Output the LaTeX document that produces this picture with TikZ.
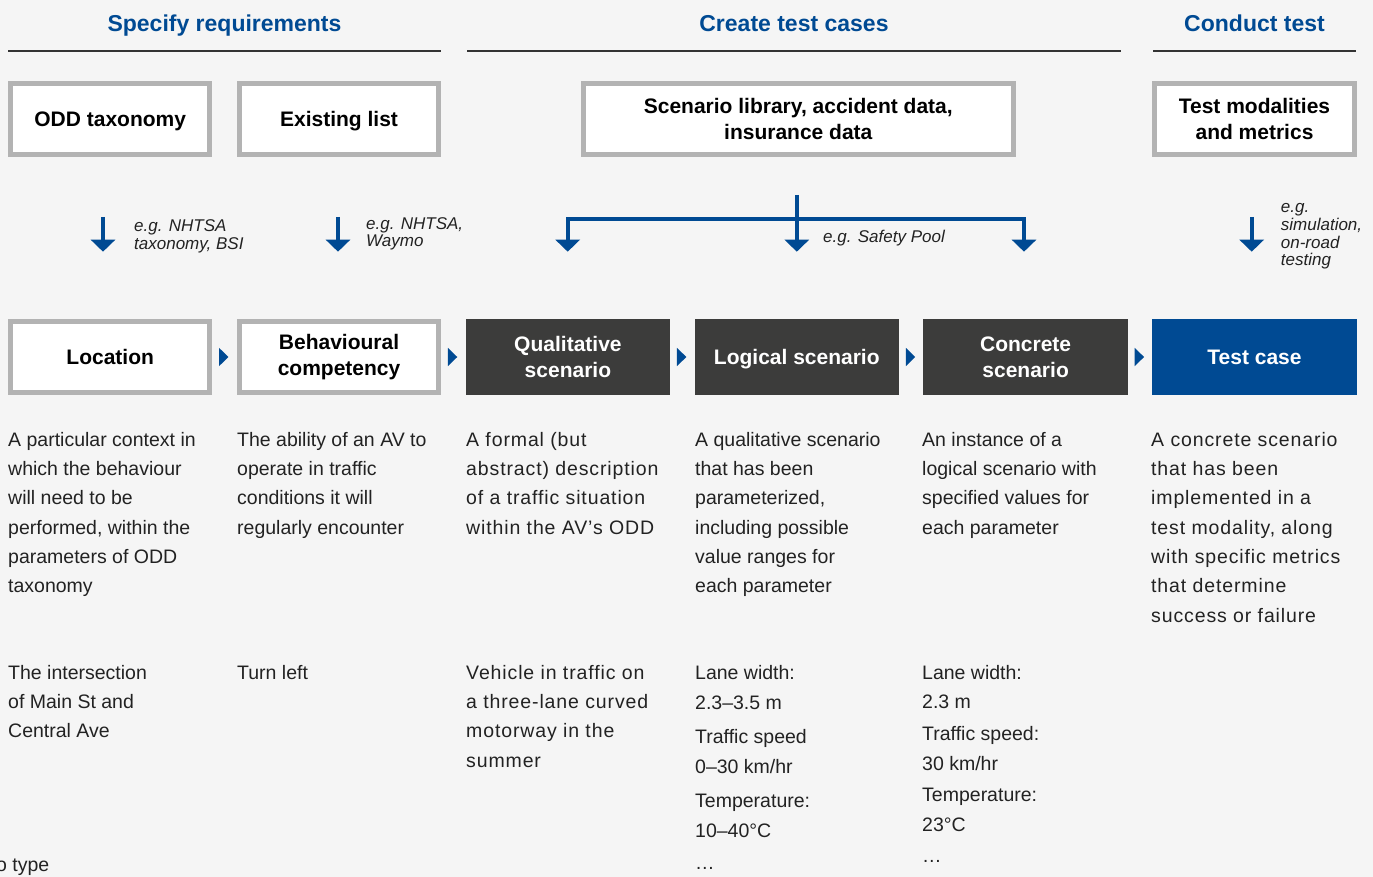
\documentclass[tikz,border=0pt]{standalone}
\usepackage{fontspec}
\setmainfont{Liberation Sans}
\newfontfamily\trackfont[LetterSpace=4.5]{Liberation Sans}
\usetikzlibrary{arrows.meta}
\definecolor{bg}{HTML}{F5F5F5}
\definecolor{mblue}{HTML}{004A93}
\definecolor{dbox}{HTML}{3C3C3B}
\definecolor{gborder}{HTML}{B3B3B3}
\definecolor{txt}{HTML}{222222}
\definecolor{rulec}{HTML}{333333}
\tikzset{
  hdr/.style={text=mblue, font=\fontsize{23}{26}\selectfont\bfseries, anchor=base, inner sep=0},
  hline/.style={draw=rulec, line width=1.2pt},
  graybox/.style={draw=gborder, line width=5pt, fill=white, minimum width=199.4pt, minimum height=71pt, inner sep=0, align=center, font=\fontsize{21}{26}\selectfont\bfseries, text=black},
  darkbox/.style={fill=dbox, draw=none, minimum width=204.4pt, minimum height=76pt, inner sep=0, align=center, font=\fontsize{21}{26}\selectfont\bfseries, text=white},
  bluebox/.style={darkbox, fill=mblue},
  tip/.tip={Triangle[width=24pt,length=12pt]},
  flow/.style={draw=mblue, line width=4pt, -tip, line join=miter},
  note/.style={anchor=north west, inner sep=0, align=left, text=txt, font=\fontsize{17}{17.5}\selectfont\itshape},
  desc/.style={anchor=north west, inner sep=0, align=left, text=txt, font=\fontsize{19.5}{29.3}\selectfont},
  tdesc/.style={desc, font=\trackfont\fontsize{19.5}{29.3}\selectfont},
  tri/.style={fill=mblue},
}
\begin{document}
\begin{tikzpicture}[x=1pt,y=-1pt]
\fill[bg] (0,0) rectangle (1373,877);
\useasboundingbox (0,0) rectangle (1373,877);

% headers
\node[hdr] (h1) at (224.5,32) {Specify requirements};
\node[hdr] (h2) at (794,32) {Create test cases};
\node[hdr] (h3) at (1254.5,32) {Conduct test};
\draw[hline] (8,51) -- (441,51);
\draw[hline] (467,51) -- (1121,51);
\draw[hline] (1153,51) -- (1356,51);

% top boxes
\node[graybox, text depth=0pt] (odd) at (110.2,119) {ODD taxonomy};
\node[graybox, text depth=0pt] (exist) at (339.06,119) {Existing list};
\node[graybox, minimum width=430pt] (scen) at (798.3,119) {Scenario library, accident data,\\insurance data};
\node[graybox] (tmod) at (1254.5,119) {Test modalities\\and metrics};

% main row
\node[graybox] (loc) at (110.2,357) {Location};
\node[graybox] (beh) at (339.06,357) {Behavioural\\competency};
\node[darkbox] (qual) at (567.92,357) {Qualitative\\scenario};
\node[darkbox, text depth=0pt] (logi) at (796.78,357) {Logical scenario};
\node[darkbox] (conc) at (1025.64,357) {Concrete\\scenario};
\node[bluebox] (tcase) at (1254.5,357) {Test case};

% small triangles between boxes
\foreach \n in {loc,beh,qual,logi,conc}{
  \fill[tri] ([xshift=6.6pt]\n.east) +(0,9.2) -- +(9.4,0) -- +(0,-9.2) -- cycle;
}

% arrows
\coordinate (a1s) at (103,217);
\coordinate (a1e) at (103,251.7);
\coordinate (a2s) at (338,217);
\coordinate (a2e) at (338,251.7);
\coordinate (a6s) at (1251.7,217);
\coordinate (a6e) at (1251.7,251.7);
\draw[flow] (a1s) -- (a1e);
\draw[flow] (a2s) -- (a2e);
\draw[flow] (a6s) -- (a6e);

\coordinate (bt) at (796.8,195);
\coordinate (bl) at (567.7,219);
\coordinate (br) at (1024,219);
\coordinate (ble) at (567.7,251.7);
\coordinate (bme) at (796.8,251.7);
\coordinate (bre) at (1024,251.7);
\draw[flow, tip-tip] (ble) -- (bl) -- (br) -- (bre);
\draw[flow] (bt) -- (bme);

% notes
\node[note] (n1) at (134,219.25) {\strut e.g. NHTSA\\taxonomy, BSI};
\node[note] (n2) at (366,216.75) {\strut e.g. NHTSA,\\Waymo};
\node[note] (n3) at (823,230.4) {\strut e.g. Safety Pool};
\node[note] (n4) at (1280.7,199.75) {\strut e.g.\\simulation,\\on-road\\testing};

% descriptions
\node[desc] (d1) at (8,425.5) {\strut A particular context in\\which the behaviour\\will need to be\\performed, within the\\parameters of ODD\\taxonomy};
\node[desc] (d2) at (237,425.5) {\strut The ability of an AV to\\operate in traffic\\conditions it will\\regularly encounter};
\node[tdesc] (d3) at (466,425.5) {\strut A formal (but\\abstract) description\\of a traffic situation\\within the AV’s ODD};
\node[desc] (d4) at (695,425.5) {\strut A qualitative scenario\\that has been\\parameterized,\\including possible\\value ranges for\\each parameter};
\node[desc] (d5) at (922,425.5) {\strut An instance of a\\logical scenario with\\specified values for\\each parameter};
\node[tdesc] (d6) at (1151,425.5) {\strut A concrete scenario\\that has been\\implemented in a\\test modality, along\\with specific metrics\\that determine\\success or failure};

% examples
\node[desc] (e1) at (8,658.5) {\strut The intersection\\of Main St and\\Central Ave};
\node[desc] (e2) at (237,658.5) {\strut Turn left};
\node[tdesc] (e3) at (466,658.5) {\strut Vehicle in traffic on\\a three-lane curved\\motorway in the\\summer};
\node[desc, font=\fontsize{19.5}{30}\selectfont] (e4) at (695,658) {\strut Lane width:\\2.3–3.5 m\\[4pt]Traffic speed\\0–30 km/hr\\[4pt]Temperature:\\10–40°C\\[2pt]…};
\node[desc, font=\fontsize{19.5}{29.6}\selectfont] (e5) at (922,658.3) {\strut Lane width:\\2.3 m\\[2pt]Traffic speed:\\30 km/hr\\[2pt]Temperature:\\23°C\\[2pt]…};

% cropped footnote (cut off at the left edge, as in the reference)
\node[anchor=base west, inner sep=0, text=txt, font=\fontsize{19.5}{29.3}\selectfont] (foot) at (-4,871) {o type};
\end{tikzpicture}
\end{document}
